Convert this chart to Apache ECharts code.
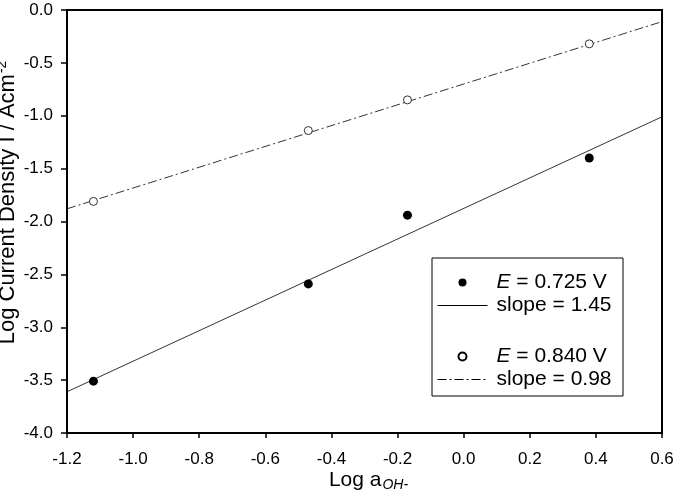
<!DOCTYPE html>
<html>
<head>
<meta charset="utf-8">
<script src="https://cdn.jsdelivr.net/npm/echarts@6/dist/echarts.min.js"></script>
<style>
  html, body { margin: 0; padding: 0; background: #fff; }
  #chart { width: 674px; height: 494px; }
</style>
</head>
<body>
<div id="chart"></div>
<script>
// measured points, log a(OH-) vs log current density
const logA = [-1.12, -0.47, -0.17, 0.38];
const filled725 = [-3.51, -2.59, -1.94, -1.40];
const open840 = [-1.81, -1.14, -0.85, -0.32];

// fitted lines (end points)
const fitX = [-1.2, 0.6];
const fit725 = [-3.61, -1.01];
const fit840 = [-1.88, -0.11];

const FONT = 'Liberation Sans';
const pairs = (xs, ys) => xs.map((x, i) => [x, ys[i]]);
const dashDot = [9, 3, 2, 3];

const chart = echarts.init(document.getElementById('chart'));

const legendRich = {
  i: { fontFamily: FONT, fontSize: 21, fontStyle: 'italic', color: '#000', lineHeight: 20 },
  t: { fontFamily: FONT, fontSize: 21, color: '#000', lineHeight: 20 },
};
const legendFmt = (name) => {
  if (name.startsWith('E = ')) return '{i|E}{t|' + name.slice(1) + '}';
  return '{t|' + name + '}';
};
const legendBase = {
  orient: 'vertical', left: 437, padding: 0,
  itemWidth: 50, itemHeight: 8, itemGap: 2,
  formatter: legendFmt,
  textStyle: { rich: legendRich, padding: [0, 0, 0, 4] },
};

chart.setOption({
  animation: false,
  backgroundColor: '#fff',
  grid: {
    left: 67, right: 12, top: 10, bottom: 61,
    outerBoundsMode: 'none',
    containLabel: false,
    show: true, borderColor: '#000', borderWidth: 2,
  },
  xAxis: {
    type: 'value',
    min: -1.2, max: 0.6, interval: 0.2,
    axisLine: { show: true, onZero: false, lineStyle: { color: '#000', width: 2 } },
    axisTick: { show: true, length: 5, lineStyle: { color: '#000', width: 1.5 } },
    splitLine: { show: false },
    axisLabel: {
      color: '#000', fontFamily: FONT, fontSize: 17, margin: 18,
      formatter: (v) => v.toFixed(1),
    },
    name: '{n|Log a}{s|OH-}',
    nameLocation: 'middle',
    nameGap: 35,
    nameMoveOverlap: false,
    nameTextStyle: {
      padding: [0, 0, 0, 8],
      rich: {
        n: { fontFamily: FONT, fontSize: 21, color: '#000' },
        s: { fontFamily: FONT, fontSize: 14, fontStyle: 'italic', color: '#000', padding: [10, 0, 0, 1] },
      },
    },
  },
  yAxis: {
    type: 'value',
    min: -4, max: 0, interval: 0.5,
    axisLine: { show: true, onZero: false, lineStyle: { color: '#000', width: 2 } },
    axisTick: { show: true, length: 6, lineStyle: { color: '#000', width: 1.5 } },
    splitLine: { show: false },
    axisLabel: {
      color: '#000', fontFamily: FONT, fontSize: 17, margin: 14,
      formatter: (v) => v.toFixed(1),
    },
    name: '{n|Log Current Density I / Acm}{s|-2}',
    nameLocation: 'middle',
    nameGap: 46,
    nameMoveOverlap: false,
    nameTextStyle: {
      padding: [0, 0, 0, 38],
      rich: {
        n: { fontFamily: FONT, fontSize: 22, color: '#000' },
        s: { fontFamily: FONT, fontSize: 14, color: '#000', padding: [0, 0, 12, 1] },
      },
    },
  },
  legend: [
    Object.assign({}, legendBase, {
      top: 272,
      data: [
        { name: 'E = 0.725 V', icon: 'circle' },
        { name: 'slope = 1.45', itemStyle: { opacity: 0 }, lineStyle: { width: 1 } },
      ],
    }),
    Object.assign({}, legendBase, {
      top: 346,
      data: [
        { name: 'E = 0.840 V', icon: 'circle' },
        { name: 'slope = 0.98', itemStyle: { opacity: 0 }, lineStyle: { width: 1 } },
      ],
    }),
  ],
  graphic: [{
    type: 'rect',
    shape: { x: 432, y: 258, width: 191, height: 138 },
    style: { fill: 'none', stroke: '#000', lineWidth: 1 },
    z: 0,
  }],
  series: [
    {
      name: 'E = 0.725 V',
      type: 'scatter',
      data: pairs(logA, filled725),
      symbol: 'circle', symbolSize: 9,
      itemStyle: { color: '#000', opacity: 1 },
      z: 5,
    },
    {
      name: 'slope = 1.45',
      type: 'line',
      data: pairs(fitX, fit725),
      symbol: 'none',
      lineStyle: { color: '#000', width: 0.8, type: 'solid' },
      itemStyle: { color: '#000' },
    },
    {
      name: 'E = 0.840 V',
      type: 'scatter',
      data: pairs(logA, open840),
      symbol: 'circle', symbolSize: 8,
      itemStyle: { color: '#fff', borderColor: '#000', borderWidth: 0.8, opacity: 1 },
      z: 5,
    },
    {
      name: 'slope = 0.98',
      type: 'line',
      data: pairs(fitX, fit840),
      symbol: 'none',
      lineStyle: { color: '#000', width: 0.8, type: dashDot },
      itemStyle: { color: '#000' },
    },
  ],
});
</script>
</body>
</html>
